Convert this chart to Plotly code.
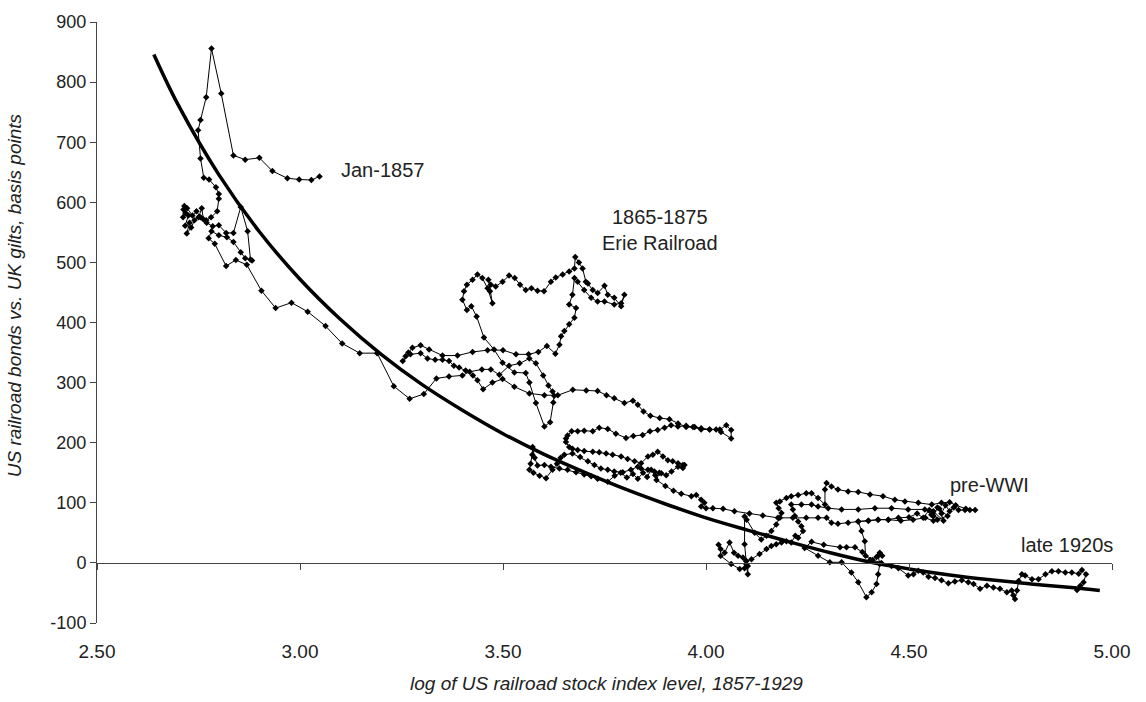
import plotly.graph_objects as go

# ---- data ----
# (log stock index, spread in bp) ; monthly path 1857-1929, split into stretches
seg_1857_1865 = [
    (3.048, 643), (3.028, 637), (2.998, 638), (2.969, 640), (2.932, 652), (2.900, 674), (2.865, 671),
    (2.836, 678), (2.806, 781), (2.782, 856), (2.769, 775), (2.755, 737), (2.749, 720), (2.755, 673),
    (2.763, 641), (2.776, 638), (2.793, 625), (2.800, 614), (2.800, 606), (2.796, 585), (2.781, 575),
    (2.769, 570), (2.755, 575), (2.745, 585), (2.735, 578), (2.722, 590), (2.715, 594), (2.713, 588),
    (2.712, 575), (2.718, 582), (2.725, 578), (2.717, 561), (2.728, 566), (2.721, 548), (2.732, 558),
    (2.740, 570), (2.750, 575), (2.758, 590), (2.762, 572), (2.770, 566), (2.785, 560), (2.800, 562),
    (2.818, 549), (2.836, 549), (2.854, 592), (2.871, 552), (2.878, 505), (2.882, 503), (2.865, 507),
    (2.854, 517), (2.836, 534), (2.820, 542), (2.800, 545), (2.782, 552), (2.775, 540), (2.790, 531),
    (2.818, 494), (2.842, 504), (2.869, 496), (2.905, 453), (2.940, 424), (2.979, 433), (3.019, 418),
    (3.063, 394), (3.104, 365), (3.147, 349), (3.190, 349), (3.231, 294), (3.270, 273), (3.305, 281),
    (3.336, 307),
]
seg_erie = [
    (3.367, 310), (3.400, 312), (3.418, 318), (3.448, 322), (3.470, 322), (3.491, 313), (3.515, 328),
    (3.541, 332), (3.565, 340), (3.581, 332), (3.599, 312), (3.612, 295), (3.622, 285), (3.626, 278),
    (3.624, 267), (3.616, 234), (3.602, 227), (3.581, 266), (3.565, 300), (3.556, 316), (3.528, 317),
    (3.499, 333), (3.478, 355), (3.453, 375), (3.435, 410), (3.422, 427), (3.411, 421), (3.400, 438),
    (3.404, 452), (3.411, 463), (3.425, 471), (3.437, 480), (3.449, 474), (3.462, 457), (3.474, 432),
    (3.468, 452), (3.464, 471), (3.470, 463), (3.482, 460), (3.499, 468), (3.515, 478), (3.529, 474),
    (3.542, 463), (3.556, 454), (3.570, 457), (3.585, 453), (3.601, 452), (3.618, 468), (3.630, 475),
    (3.647, 480), (3.663, 485), (3.676, 490), (3.678, 509), (3.687, 500), (3.696, 490), (3.704, 468),
    (3.709, 465), (3.721, 454), (3.733, 449), (3.750, 461), (3.758, 446), (3.774, 441), (3.791, 427),
    (3.799, 446), (3.791, 432), (3.774, 430), (3.750, 435), (3.733, 435), (3.717, 441), (3.700, 454),
    (3.684, 468), (3.676, 474), (3.671, 446), (3.663, 430), (3.680, 424), (3.676, 408), (3.663, 397),
    (3.651, 386), (3.643, 377), (3.639, 363), (3.629, 348), (3.608, 361), (3.587, 351),
]
seg_1875_1885 = [
    (3.563, 347), (3.532, 347), (3.500, 354), (3.462, 354), (3.425, 351), (3.388, 345), (3.351, 345),
    (3.318, 355), (3.297, 362), (3.277, 358), (3.267, 350), (3.260, 344), (3.253, 336), (3.272, 347),
    (3.297, 349), (3.314, 340), (3.333, 338), (3.351, 338), (3.367, 336), (3.379, 328), (3.392, 325),
    (3.408, 320), (3.426, 312), (3.437, 304), (3.451, 289), (3.474, 300), (3.499, 306), (3.528, 293),
    (3.565, 282), (3.602, 279), (3.635, 279), (3.672, 288), (3.705, 287), (3.733, 286), (3.755, 279),
    (3.774, 274), (3.799, 266), (3.820, 270), (3.832, 263), (3.846, 252), (3.863, 245), (3.886, 241),
    (3.910, 239), (3.931, 232), (3.951, 226), (3.972, 226), (3.988, 224), (4.009, 222), (4.034, 222),
    (4.050, 229), (4.062, 221), (4.062, 207), (4.037, 218), (4.025, 222), (4.009, 222), (3.988, 222),
    (3.968, 226), (3.951, 228), (3.931, 227), (3.914, 229), (3.898, 225), (3.881, 221), (3.862, 219),
    (3.844, 213), (3.821, 211), (3.803, 208), (3.778, 215), (3.758, 223), (3.737, 225), (3.721, 219),
    (3.700, 220), (3.684, 219), (3.669, 219), (3.659, 212), (3.655, 207), (3.655, 201), (3.663, 193),
    (3.671, 190),
]
seg_1885_1900 = [
    (3.684, 188), (3.700, 186), (3.721, 185), (3.737, 184), (3.754, 182), (3.770, 180), (3.791, 177),
    (3.807, 173), (3.824, 169), (3.840, 166), (3.857, 177), (3.869, 180), (3.881, 185), (3.894, 177),
    (3.906, 171), (3.918, 169), (3.931, 166), (3.943, 163), (3.947, 163), (3.943, 158), (3.931, 160),
    (3.915, 152), (3.902, 146), (3.890, 149), (3.873, 152), (3.857, 155), (3.840, 157), (3.832, 160),
    (3.815, 155), (3.795, 151), (3.774, 152), (3.758, 155), (3.741, 157), (3.725, 163), (3.709, 169),
    (3.690, 176), (3.671, 182), (3.651, 180), (3.642, 175), (3.633, 165), (3.622, 155), (3.606, 141),
    (3.590, 145), (3.575, 150), (3.565, 155), (3.568, 165), (3.572, 180), (3.573, 193), (3.578, 175),
    (3.585, 162), (3.602, 163), (3.618, 160), (3.639, 157), (3.659, 155), (3.680, 151), (3.700, 147),
    (3.717, 144), (3.733, 140), (3.758, 135), (3.775, 145), (3.790, 150), (3.805, 142), (3.820, 148),
    (3.832, 140), (3.845, 150), (3.855, 143), (3.865, 155), (3.875, 146), (3.885, 150), (3.878, 138),
    (3.900, 128), (3.920, 120), (3.939, 115), (3.964, 111), (3.976, 113), (3.988, 105), (3.996, 100),
    (3.988, 94), (4.000, 91),
]
seg_1900_1914 = [
    (4.017, 91), (4.042, 90), (4.070, 86), (4.107, 82), (4.140, 79), (4.177, 75), (4.214, 75),
    (4.247, 75), (4.276, 75), (4.297, 75), (4.309, 67), (4.325, 65), (4.350, 67), (4.375, 69),
    (4.400, 70), (4.424, 72), (4.449, 72), (4.474, 75), (4.500, 76), (4.520, 82), (4.535, 75),
    (4.550, 88), (4.560, 78), (4.570, 92), (4.580, 82), (4.590, 96), (4.600, 86), (4.610, 92),
    (4.622, 88), (4.638, 88), (4.650, 88), (4.663, 88), (4.640, 90), (4.615, 96), (4.600, 101),
    (4.580, 100), (4.556, 97), (4.523, 100), (4.490, 102), (4.465, 105), (4.436, 111), (4.404, 114),
    (4.375, 118), (4.350, 119), (4.325, 122), (4.309, 127), (4.297, 133), (4.293, 122), (4.293, 97),
    (4.276, 108), (4.260, 116), (4.247, 116), (4.227, 113), (4.210, 111), (4.198, 108), (4.182, 102),
    (4.173, 100), (4.179, 91), (4.186, 83), (4.182, 75), (4.173, 64), (4.161, 53), (4.149, 45),
    (4.136, 39), (4.120, 50), (4.100, 72), (4.095, 77), (4.095, 31), (4.099, 3), (4.103, -5),
    (4.103, -19), (4.099, -2), (4.095, -9), (4.083, -10), (4.062, -2), (4.036, 12), (4.036, 23),
    (4.031, 30), (4.046, 17), (4.058, 34), (4.069, 17), (4.079, 12), (4.091, 9), (4.099, 3),
    (4.112, 6), (4.132, 15), (4.149, 23), (4.161, 28), (4.173, 31), (4.186, 34), (4.198, 36),
    (4.210, 34), (4.220, 45), (4.227, 42), (4.239, 53), (4.235, 61), (4.227, 69), (4.219, 78),
    (4.214, 89), (4.210, 97), (4.235, 97), (4.260, 97), (4.276, 94), (4.301, 91), (4.334, 89),
    (4.375, 89), (4.416, 91), (4.457, 91), (4.498, 89), (4.539, 89), (4.555, 80), (4.570, 72),
    (4.560, 86), (4.585, 70), (4.575, 90), (4.595, 78), (4.560, 70), (4.540, 75), (4.510, 72),
    (4.480, 70), (4.449, 72), (4.424, 72), (4.400, 70), (4.375, 69),
]
seg_1914_1929 = [
    (4.383, 53), (4.391, 36), (4.393, 12), (4.405, 5), (4.420, 10), (4.428, 17), (4.434, 12),
    (4.424, 12), (4.428, -2), (4.424, -19), (4.420, -35), (4.408, -49), (4.395, -57), (4.375, -32),
    (4.358, -16), (4.334, 1), (4.305, 1), (4.276, 12), (4.243, 25), (4.260, 35), (4.290, 30),
    (4.330, 26), (4.346, 26), (4.367, 26), (4.385, 18), (4.410, 5), (4.432, 0), (4.457, -5),
    (4.474, -9), (4.498, -21), (4.511, -19), (4.523, -13), (4.535, -16), (4.548, -23), (4.564, -25),
    (4.580, -29), (4.597, -34), (4.613, -31), (4.630, -29), (4.646, -32), (4.659, -35), (4.675, -43),
    (4.692, -38), (4.708, -41), (4.724, -43), (4.741, -49), (4.753, -46), (4.757, -54), (4.761, -60),
    (4.766, -46), (4.770, -30), (4.778, -19), (4.786, -21), (4.803, -27), (4.819, -27), (4.836, -19),
    (4.852, -14), (4.868, -14), (4.885, -16), (4.901, -16), (4.918, -18), (4.926, -12), (4.936, -19),
    (4.930, -32), (4.922, -38), (4.914, -45),
]

# fitted trend line
fit_x = [2.64, 2.70, 2.80, 2.90, 3.00, 3.10, 3.20, 3.30, 3.40, 3.50, 3.60, 3.70, 3.80,
         3.90, 4.00, 4.10, 4.20, 4.30, 4.40, 4.50, 4.60, 4.70, 4.80, 4.90, 4.97]
fit_y = [846, 762, 646, 551, 472, 405, 347, 297, 254, 215, 181, 151, 123,
         98, 75, 55, 36, 18, 2, -10, -20, -28, -35, -41, -46]

x_ticks = [2.5, 3.0, 3.5, 4.0, 4.5, 5.0]
x_tick_text = ["2.50", "3.00", "3.50", "4.00", "4.50", "5.00"]
y_ticks = [-100, 0, 100, 200, 300, 400, 500, 600, 700, 800, 900]
y_tick_text = ["-100", "0", "100", "200", "300", "400", "500", "600", "700", "800", "900"]

# annotation text, anchor x, anchor y, horizontal alignment, pixel shift
labels = [
    ("Jan-1857", 3.097, 653, "left", 0),
    ("1865-1875<br>Erie Railroad", 3.887, 554, "center", 0),
    ("pre-WWI", 4.597, 129, "left", 0),
    ("late 1920s", 5.0, 29, "right", 3),
]

path = (seg_1857_1865 + seg_erie + seg_1875_1885 + seg_1885_1900
        + seg_1900_1914 + seg_1914_1929)
px_ = [p[0] for p in path]
py_ = [p[1] for p in path]

FONT = "Liberation Sans"
TXT = "#222222"

fig = go.Figure()
fig.add_trace(go.Scatter(
    x=px_, y=py_, mode="lines+markers",
    line=dict(color="black", width=1),
    marker=dict(symbol="diamond", size=5, color="black"),
    showlegend=False, hoverinfo="x+y",
))
fig.add_trace(go.Scatter(
    x=fit_x, y=fit_y, mode="lines",
    line=dict(color="black", width=3.5, shape="spline", smoothing=1.0),
    showlegend=False, hoverinfo="skip",
))
# invisible trace carrying the x-axis drawn at y = 0
fig.add_trace(go.Scatter(x=[2.5, 5.0], y=[0, 0], xaxis="x2", mode="markers",
                         marker=dict(opacity=0), showlegend=False, hoverinfo="skip"))

for text, x, y, anchor, shift in labels:
    fig.add_annotation(x=x, y=y, text=text, showarrow=False, xanchor=anchor, xshift=shift,
                       yanchor="middle", font=dict(family=FONT, size=20, color=TXT))

fig.add_annotation(xref="paper", yref="paper", x=0.502, y=-0.10, yanchor="middle",
                   text="<i>log of US railroad stock index level, 1857-1929</i>",
                   showarrow=False, font=dict(family=FONT, size=19, color=TXT))
fig.add_annotation(xref="paper", yref="paper", x=-0.081, y=0.545, xanchor="center",
                   yanchor="middle", textangle=-90,
                   text="<i>US railroad bonds vs. UK gilts, basis points</i>",
                   showarrow=False, font=dict(family=FONT, size=19, color=TXT))

fig.update_layout(
    width=1146, height=702,
    margin=dict(l=97, r=34, t=17, b=79),
    paper_bgcolor="white", plot_bgcolor="white",
    font=dict(family=FONT, size=18, color=TXT),
    xaxis=dict(range=[2.5, 5.0], tickvals=x_ticks, ticktext=x_tick_text,
               showline=False, showgrid=False, zeroline=False,
               ticks="outside", ticklen=11, tickcolor="rgba(0,0,0,0)",
               tickfont=dict(family=FONT, size=19, color=TXT)),
    xaxis2=dict(range=[2.5, 5.0], overlaying="x", anchor="free", position=0.1,
                tickvals=x_ticks, showticklabels=False, showline=True,
                linecolor="#444", linewidth=1, ticks="outside", ticklen=6,
                tickcolor="#444", showgrid=False, zeroline=False),
    yaxis=dict(range=[-100, 900], tickvals=y_ticks, ticktext=y_tick_text,
               showline=True, linecolor="#444", linewidth=1, ticks="outside",
               ticklen=6, tickcolor="#444", showgrid=False, zeroline=False,
               tickfont=dict(family=FONT, size=18, color=TXT)),
)

fig.write_html("out.html")
